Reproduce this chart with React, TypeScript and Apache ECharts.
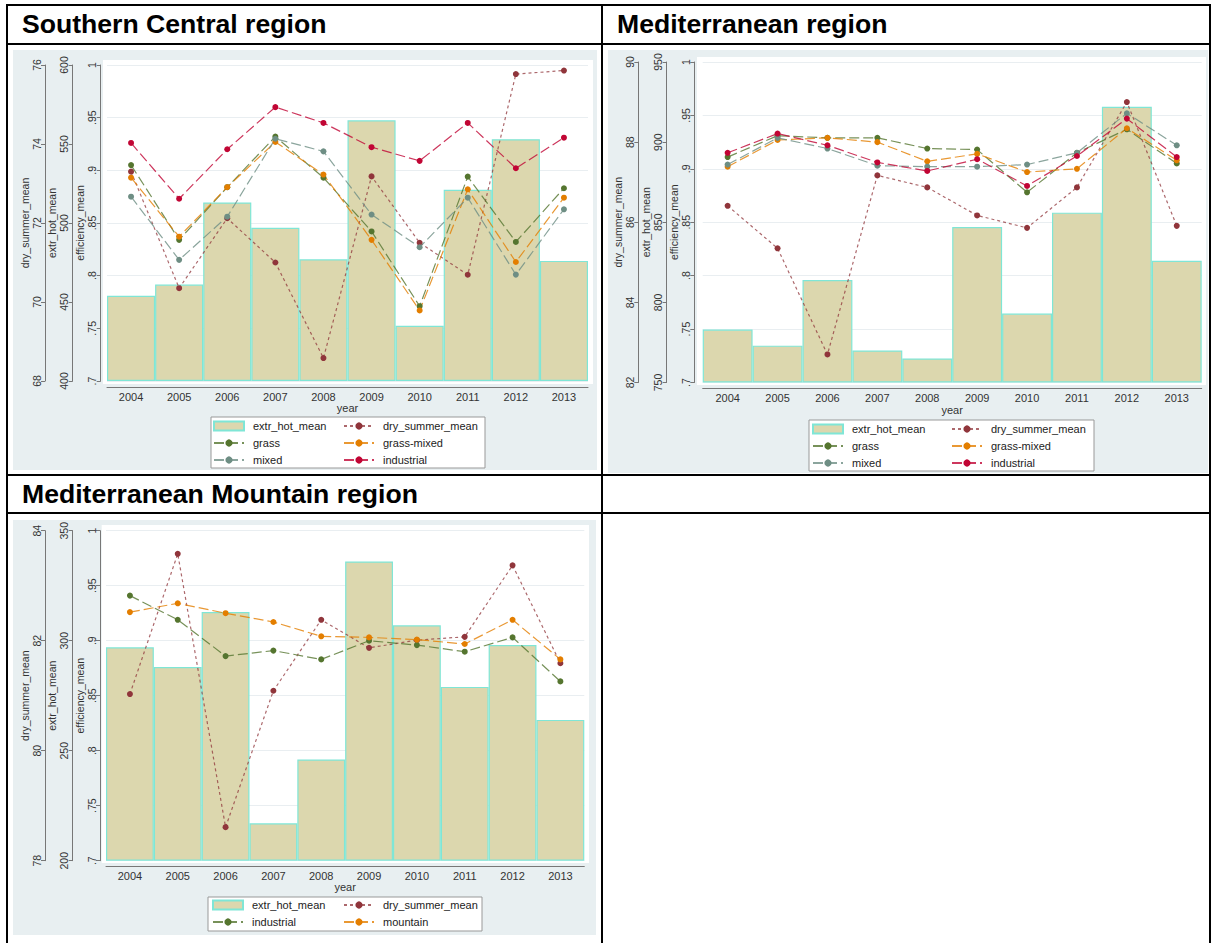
import React, { useEffect, useRef } from 'react';
import * as echarts from 'echarts';

const years = ['2004', '2005', '2006', '2007', '2008', '2009', '2010', '2011', '2012', '2013'];

// Southern Central region
const scExtrHot = [454, 461, 513, 497, 477, 565, 435, 521, 553, 476];
const scDrySummer = [73.3, 70.35, 72.12, 71.0, 68.58, 73.18, 71.5, 70.69, 75.77, 75.86];
const scGrass = [0.905, 0.834, 0.884, 0.932, 0.893, 0.842, 0.771, 0.894, 0.832, 0.883];
const scGrassMixed = [0.893, 0.837, 0.884, 0.927, 0.896, 0.834, 0.767, 0.882, 0.813, 0.874];
const scMixed = [0.875, 0.815, 0.856, 0.93, 0.918, 0.858, 0.827, 0.874, 0.801, 0.863];
const scIndustrial = [0.926, 0.873, 0.92, 0.96, 0.945, 0.922, 0.909, 0.945, 0.902, 0.931];

// Mediterranean region
const medExtrHot = [783, 773, 814, 770, 765, 847, 793, 856, 922, 826];
const medDrySummer = [86.41, 85.35, 82.7, 87.17, 86.87, 86.17, 85.86, 86.87, 89.0, 85.91];
const medGrass = [0.911, 0.931, 0.929, 0.929, 0.919, 0.918, 0.878, 0.915, 0.937, 0.905];
const medGrassMixed = [0.902, 0.927, 0.929, 0.925, 0.907, 0.914, 0.897, 0.9, 0.938, 0.908];
const medMixed = [0.904, 0.929, 0.919, 0.903, 0.902, 0.902, 0.904, 0.915, 0.952, 0.922];
const medIndustrial = [0.915, 0.933, 0.922, 0.906, 0.898, 0.909, 0.884, 0.912, 0.947, 0.911];

// Mediterranean Mountain region
const mmExtrHot = [297, 288, 313, 217, 246, 336, 307, 279, 298, 264];
const mmDrySummer = [81.03, 83.58, 78.61, 81.09, 82.38, 81.87, 82.01, 82.07, 83.37, 81.59];
const mmIndustrial = [0.941, 0.919, 0.886, 0.891, 0.883, 0.9, 0.896, 0.89, 0.903, 0.863];
const mmMountain = [0.926, 0.934, 0.925, 0.917, 0.904, 0.903, 0.901, 0.897, 0.919, 0.883];

const FONT = '"Liberation Sans", Arial, Helvetica, sans-serif';
const COL = {
  maroon: '#90353B',
  green: '#55752F',
  orange: '#E37E00',
  teal: '#6E8E84',
  cranberry: '#C10534',
  barFill: '#DCD7AE',
  barBorder: '#7FE6D6',
  bg: '#E8EFF1',
  axis: '#777777',
  text: '#333333',
};

type Panel = {
  title: string;
  titlePos: [number, number];
  grid: { left: number; top: number; width: number; height: number };
  offsets: [number, number, number];
  xOffset: number;
  extr: { min: number; max: number; data: number[] };
  dry: { min: number; max: number; data: number[] };
  eff: { name: string; color: string; data: number[] }[];
  legendCols: [string[], string[]];
  legendPos: { c1: number; c2: number; top: number };
  bgRect: [number, number, number, number];
  plotRect: [number, number, number, number];
  legendRect: [number, number, number, number];
};

const panels: Panel[] = [
  {
    title: 'Southern Central region',
    titlePos: [22, 24],
    grid: { left: 107, top: 65, width: 481, height: 316 },
    offsets: [6.3, 34.3, 62],
    xOffset: 6,
    extr: { min: 400, max: 600, data: scExtrHot },
    dry: { min: 68, max: 76, data: scDrySummer },
    eff: [
      { name: 'grass', color: COL.green, data: scGrass },
      { name: 'grass-mixed', color: COL.orange, data: scGrassMixed },
      { name: 'mixed', color: COL.teal, data: scMixed },
      { name: 'industrial', color: COL.cranberry, data: scIndustrial },
    ],
    legendCols: [
      ['extr_hot_mean', 'grass', 'mixed'],
      ['dry_summer_mean', 'grass-mixed', 'industrial'],
    ],
    legendPos: { c1: 213, c2: 343, top: 420 },
    bgRect: [13, 50, 584, 420],
    plotRect: [103, 60, 490, 324],
    legendRect: [211, 417, 274, 51],
  },
  {
    title: 'Mediterranean region',
    titlePos: [617, 24],
    grid: { left: 702.7, top: 62, width: 499, height: 320.5 },
    offsets: [8.4, 36, 64.4],
    xOffset: 6,
    extr: { min: 750, max: 950, data: medExtrHot },
    dry: { min: 82, max: 90, data: medDrySummer },
    eff: [
      { name: 'grass', color: COL.green, data: medGrass },
      { name: 'grass-mixed', color: COL.orange, data: medGrassMixed },
      { name: 'mixed', color: COL.teal, data: medMixed },
      { name: 'industrial', color: COL.cranberry, data: medIndustrial },
    ],
    legendCols: [
      ['extr_hot_mean', 'grass', 'mixed'],
      ['dry_summer_mean', 'grass-mixed', 'industrial'],
    ],
    legendPos: { c1: 812, c2: 951, top: 423 },
    bgRect: [608, 50, 600, 423],
    plotRect: [697, 57, 509, 328],
    legendRect: [809, 420, 285, 51],
  },
  {
    title: 'Mediterranean Mountain region',
    titlePos: [22, 494],
    grid: { left: 106, top: 530.7, width: 478.3, height: 330 },
    offsets: [6, 33.3, 61],
    xOffset: 5.3,
    extr: { min: 200, max: 350, data: mmExtrHot },
    dry: { min: 78, max: 84, data: mmDrySummer },
    eff: [
      { name: 'industrial', color: COL.green, data: mmIndustrial },
      { name: 'mountain', color: COL.orange, data: mmMountain },
    ],
    legendCols: [
      ['extr_hot_mean', 'industrial'],
      ['dry_summer_mean', 'mountain'],
    ],
    legendPos: { c1: 212, c2: 343, top: 899 },
    bgRect: [13, 520, 583, 415],
    plotRect: [101.7, 525, 487.3, 338],
    legendRect: [208, 897, 274, 34],
  },
];

const effFmt = (v: number) => {
  const s = String(Math.round(v * 100) / 100);
  return s.startsWith('0') ? s.slice(1) : s;
};

function yAxis(gridIndex: number, name: string, min: number, max: number, interval: number, offset: number, isEff: boolean) {
  return {
    type: 'value',
    gridIndex,
    position: 'left',
    name,
    nameLocation: 'middle',
    nameGap: 14,
    nameTextStyle: { fontSize: 10.5, color: COL.text, fontFamily: FONT },
    min,
    max,
    interval,
    offset,
    startValue: min,
    axisLine: { show: true, lineStyle: { color: COL.axis, width: 1 } },
    axisTick: { show: true, length: 4, lineStyle: { color: COL.axis } },
    axisLabel: {
      rotate: 90,
      margin: 3,
      fontSize: 10.5,
      color: COL.text,
      fontFamily: FONT,
      formatter: isEff ? effFmt : undefined,
    },
    splitLine: { show: isEff, lineStyle: { color: '#E9EEF1', width: 1 } },
  };
}

function buildOption() {
  const grids: any[] = [];
  const xAxes: any[] = [];
  const yAxes: any[] = [];
  const series: any[] = [];
  const legends: any[] = [];
  const graphics: any[] = [];

  panels.forEach((p, i) => {
    grids.push({ ...p.grid, containLabel: false });
    xAxes.push({
      type: 'category',
      gridIndex: i,
      data: years,
      boundaryGap: true,
      offset: p.xOffset,
      axisLine: { lineStyle: { color: COL.axis } },
      axisTick: { alignWithLabel: true, length: 4, lineStyle: { color: COL.axis } },
      axisLabel: { fontSize: 11, color: COL.text, margin: 4, fontFamily: FONT, interval: 0 },
      name: 'year',
      nameLocation: 'middle',
      nameGap: 15,
      nameTextStyle: { fontSize: 11, color: COL.text, fontFamily: FONT },
    });
    yAxes.push(yAxis(i, 'efficiency_mean', 0.7, 1, 0.05, p.offsets[0], true));
    yAxes.push(yAxis(i, 'extr_hot_mean', p.extr.min, p.extr.max, 50, p.offsets[1], false));
    yAxes.push(yAxis(i, 'dry_summer_mean', p.dry.min, p.dry.max, 2, p.offsets[2], false));

    series.push({
      type: 'bar',
      name: `extr_hot_mean#${i}`,
      xAxisIndex: i,
      yAxisIndex: i * 3 + 1,
      data: p.extr.data,
      barWidth: '100%',
      barGap: '0%',
      barCategoryGap: '0%',
      itemStyle: { color: COL.barFill, borderColor: COL.barBorder, borderWidth: 1.2 },
      z: 2,
    });
    series.push({
      type: 'line',
      name: `dry_summer_mean#${i}`,
      xAxisIndex: i,
      yAxisIndex: i * 3 + 2,
      data: p.dry.data,
      symbol: 'circle',
      symbolSize: 6,
      itemStyle: { color: COL.maroon },
      lineStyle: { color: COL.maroon, width: 1.2, type: [3, 3], opacity: 0.75 },
      z: 3,
    });
    p.eff.forEach((s) => {
      series.push({
        type: 'line',
        name: `${s.name}#${i}`,
        xAxisIndex: i,
        yAxisIndex: i * 3,
        data: s.data,
        symbol: 'circle',
        symbolSize: 6,
        itemStyle: { color: s.color },
        lineStyle: { color: s.color, width: 1.2, type: [10, 4], opacity: 0.8 },
        z: 4,
      });
    });

    p.legendCols.forEach((col, ci) => {
      legends.push({
        orient: 'vertical',
        left: ci === 0 ? p.legendPos.c1 : p.legendPos.c2,
        top: p.legendPos.top,
        padding: 0,
        itemWidth: 30,
        itemHeight: 9,
        itemGap: 5,
        selectedMode: false,
        formatter: (n: string) => n.split('#')[0],
        textStyle: { fontSize: 11, color: '#222', fontFamily: FONT, lineHeight: 12, padding: [0, 0, 0, 4] },
        data: col.map((n) => (n === 'extr_hot_mean' ? { name: `${n}#${i}`, icon: 'rect' } : `${n}#${i}`)),
      });
    });

    const [bx, by, bw, bh] = p.bgRect;
    graphics.push({ type: 'rect', z: -10, shape: { x: bx, y: by, width: bw, height: bh }, style: { fill: COL.bg } });
    const [px, py, pw, ph] = p.plotRect;
    graphics.push({ type: 'rect', z: -9, shape: { x: px, y: py, width: pw, height: ph }, style: { fill: '#FFFFFF' } });
    const [lx, ly, lw, lh] = p.legendRect;
    graphics.push({ type: 'rect', z: -8, shape: { x: lx, y: ly, width: lw, height: lh }, style: { fill: '#FFFFFF', stroke: '#999999', lineWidth: 1 } });
    graphics.push({
      type: 'text',
      x: p.titlePos[0],
      y: p.titlePos[1],
      z: 50,
      style: { text: p.title, fill: '#000', fontSize: 26.6, fontWeight: 'bold', fontFamily: FONT, verticalAlign: 'middle' },
    });
  });

  // table borders
  const hLines = [5, 44, 475, 513];
  hLines.forEach((y) =>
    graphics.push({ type: 'line', z: 60, shape: { x1: 6, y1: y, x2: 1211, y2: y }, style: { stroke: '#000', lineWidth: 2 } })
  );
  [7, 602, 1210].forEach((x) =>
    graphics.push({ type: 'line', z: 60, shape: { x1: x, y1: 4, x2: x, y2: 943 }, style: { stroke: '#000', lineWidth: 2 } })
  );

  return {
    animation: false,
    backgroundColor: '#FFFFFF',
    textStyle: { fontFamily: FONT },
    grid: grids,
    xAxis: xAxes,
    yAxis: yAxes,
    legend: legends,
    series,
    graphic: { elements: graphics },
  };
}

export default function App() {
  const ref = useRef<HTMLDivElement>(null);
  useEffect(() => {
    if (!ref.current) return;
    const chart = echarts.init(ref.current, undefined, { renderer: 'svg' });
    chart.setOption(buildOption() as any);
    return () => chart.dispose();
  }, []);
  return (
    <div
      ref={ref}
      style={{ position: 'absolute', left: 0, top: 0, width: 1212, height: 943 }}
    />
  );
}
